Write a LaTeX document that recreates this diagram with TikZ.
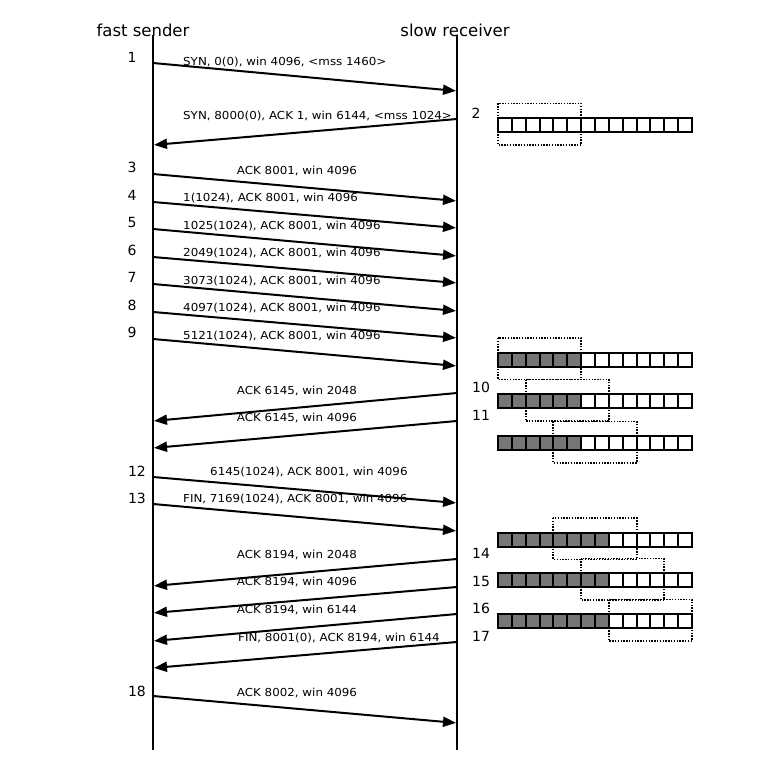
\documentclass[tikz,border=0pt]{standalone}
\usepackage{fontspec}
\setmainfont{DejaVu Sans}
\newfontfamily\lblfont[FakeStretch=1.08]{DejaVu Sans}
\usetikzlibrary{arrows.meta}
\definecolor{shade}{RGB}{118,118,118}
\begin{document}
\begin{tikzpicture}[x=1pt,y=-1pt,
  life/.style={line width=2pt},
  msg/.style={line width=2pt,-{Triangle[length=13pt,width=10pt]},shorten >=1pt},
  lbl/.style={font=\lblfont\fontsize{11}{13}\selectfont,inner sep=0pt},
  num/.style={font=\fontsize{14}{16}\selectfont,inner sep=0pt},
  ttl/.style={font=\fontsize{16.5}{19}\selectfont,inner sep=0pt},
  cellbox/.style={draw,line width=2pt},
  winbox/.style={line width=1.9pt,dash pattern=on 1.4pt off 1.4pt}]
\useasboundingbox[fill=white] (0,0) rectangle (780,760);
% titles
\node[ttl] (ts) at (143,30) {fast sender};
\node[ttl] (tr) at (455,30) {slow receiver};
% lifelines
\coordinate (sTop) at (153,35);
\coordinate (sBot) at (153,750);
\coordinate (rTop) at (457,35);
\coordinate (rBot) at (457,750);
\draw[life] (sTop) -- (sBot);
\draw[life] (rTop) -- (rBot);
% sender -> receiver
\foreach \i/\a/\b in {1/63/91,3/174/201,4/202/228,5/229/256,6/257/283,7/284/311,8/312/338,9/339/366,12/477/503,13/504/531,18/696/723}{
  \coordinate (s\i) at (153,\a);
  \coordinate (r\i) at (457,\b);
  \draw[msg] (s\i) -- (r\i);
}
% receiver -> sender
\foreach \i/\a/\b in {2/119/145,10/393/421,11/421/448,14/559/586,15/587/613,16/614/641,17/642/668}{
  \coordinate (r\i) at (457,\a);
  \coordinate (s\i) at (153,\b);
  \draw[msg] (r\i) -- (s\i);
}
% message labels
\node[lbl,anchor=west] (l1) at (183,62) {SYN, 0(0), win 4096, <mss 1460>};
\node[lbl,anchor=west] (l2) at (183,116) {SYN, 8000(0), ACK 1, win 6144, <mss 1024>};
\node[lbl] (l3) at (297,171) {ACK 8001, win 4096};
\node[lbl,anchor=west] (l4) at (183,198) {1(1024), ACK 8001, win 4096};
\node[lbl,anchor=west] (l5) at (183,226) {1025(1024), ACK 8001, win 4096};
\node[lbl,anchor=west] (l6) at (183,253) {2049(1024), ACK 8001, win 4096};
\node[lbl,anchor=west] (l7) at (183,281) {3073(1024), ACK 8001, win 4096};
\node[lbl,anchor=west] (l8) at (183,308) {4097(1024), ACK 8001, win 4096};
\node[lbl,anchor=west] (l9) at (183,336) {5121(1024), ACK 8001, win 4096};
\node[lbl] (l10) at (297,391) {ACK 6145, win 2048};
\node[lbl] (l11) at (297,418) {ACK 6145, win 4096};
\node[lbl,anchor=west] (l12) at (210,472) {6145(1024), ACK 8001, win 4096};
\node[lbl,anchor=west] (l13) at (183,499) {FIN, 7169(1024), ACK 8001, win 4096};
\node[lbl] (l14) at (297,555) {ACK 8194, win 2048};
\node[lbl] (l15) at (297,582) {ACK 8194, win 4096};
\node[lbl] (l16) at (297,610) {ACK 8194, win 6144};
\node[lbl,anchor=west] (l17) at (238,638) {FIN, 8001(0), ACK 8194, win 6144};
\node[lbl] (l18) at (297,693) {ACK 8002, win 4096};
% step numbers
\foreach \n/\x/\y in {1/132/57,3/132/167,4/132/195,5/132/222,6/132/250,7/132/277,8/132/305,9/132/332,12/137/471,13/137/498,18/137/691,2/476/113,10/481/387,11/481/415,14/481/553,15/481/581,16/481/608,17/481/636}{
  \node[num] (n\n) at (\x,\y) {\n};
}
% receiver windows
\foreach \row/\y/\ng/\w in {a/118/0/0,b/352.5/6/0,c/394/6/2,d/436/6/4,e/532.5/8/4,f/573/8/6,g/614/8/8}{
  \foreach \k in {0,...,13}{
    \ifnum\k<\ng
      \draw[cellbox,fill=shade] (498+\k*13.857,\y) rectangle ++(13.857,14);
    \else
      \draw[cellbox,fill=white] (498+\k*13.857,\y) rectangle ++(13.857,14);
    \fi
  }
  \draw[winbox] (498+\w*13.857,\y-14.5) rectangle ++(6*13.857,41.5);
}
\end{tikzpicture}
\end{document}
